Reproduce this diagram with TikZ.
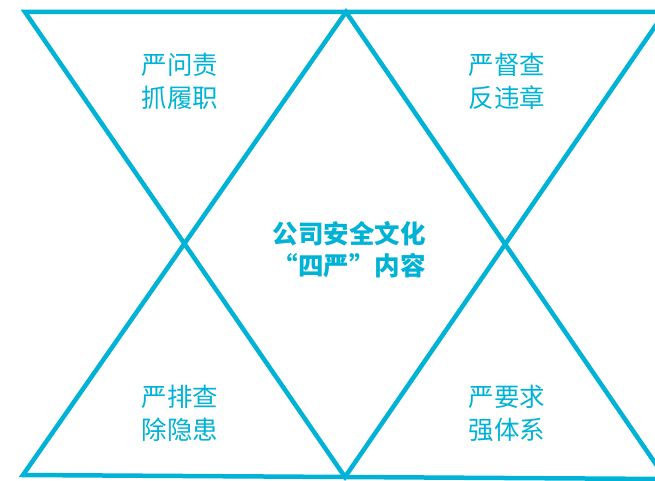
\documentclass[tikz,border=0pt]{standalone}
\usepackage{fontspec}
\setmainfont{Noto Sans CJK SC}
\usetikzlibrary{positioning}
\definecolor{sijian}{RGB}{0,178,214}

\begin{document}
\begin{tikzpicture}[x=1pt,y=-1pt,
    edge/.style={draw=sijian,line width=4.5pt},
    corner/.style={text=sijian,align=center,font=\fontsize{25.5}{33}\selectfont},
    core/.style={text=sijian,align=center,font=\fontsize{25.5}{32}\selectfont\bfseries}]
    \useasboundingbox (0,0) rectangle (655,481);
    \clip (0,0) rectangle (655,481);

    \coordinate (TL) at (25,12);
    \coordinate (TM) at (346,12);
    \coordinate (TR) at (665,12);
    \coordinate (BL) at (23,475);
    \coordinate (BM) at (345,477);
    \coordinate (BR) at (666,479);

    \path[edge] (TL) -- (TR) -- (BM) -- cycle;
    \path[edge] (BL) -- (BR) -- (TM) -- cycle;

    \node[corner] (wenze) at (180,81) {严问责\\抓履职};
    \node[corner] (duzha) at (507,81) {严督查\\反违章};
    \node[corner] (paicha) at (180,413) {严排查\\除隐患};
    \node[corner] (yaoqiu) at (507,413) {严要求\\强体系};
    \node[core] (wenhua) at (349,250) {公司安全文化\\“四严”内容};
\end{tikzpicture}
\end{document}
